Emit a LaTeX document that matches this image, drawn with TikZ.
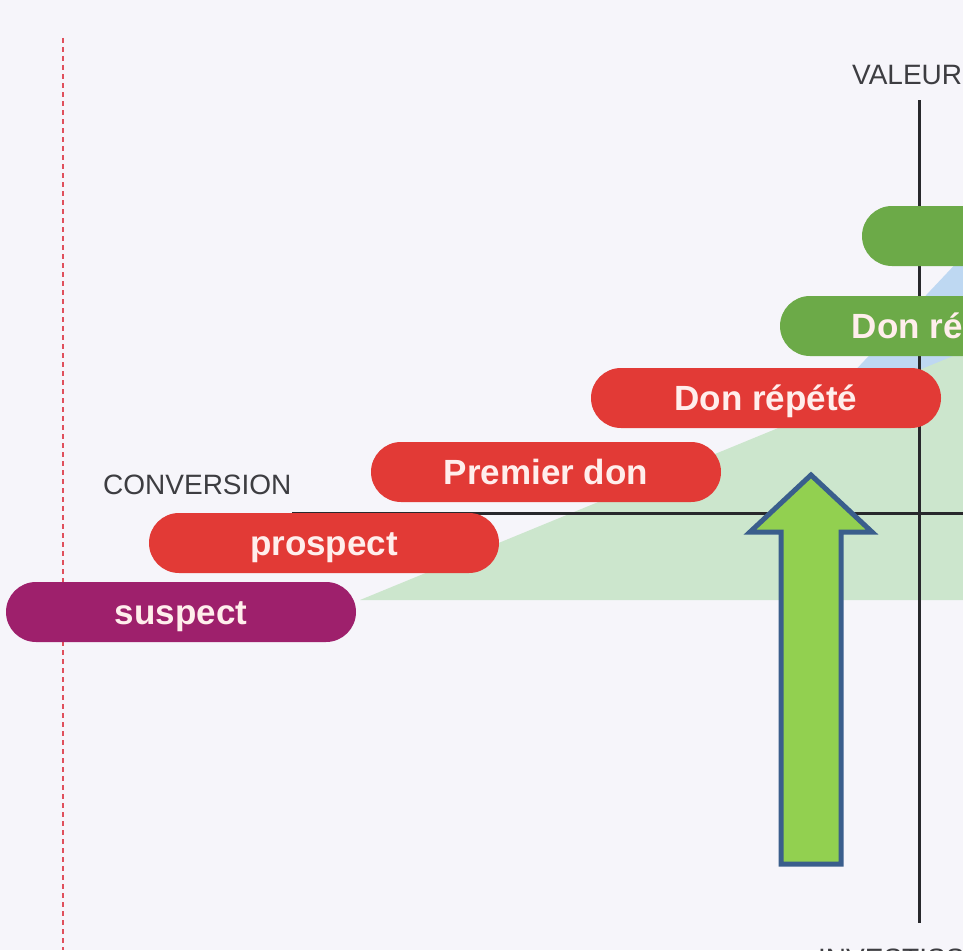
\documentclass[tikz,border=0pt]{standalone}
\usepackage{fontspec}
\setmainfont{Liberation Sans}
\begin{document}
\definecolor{paper}{RGB}{246,245,250}
\definecolor{pillred}{RGB}{226,58,54}
\definecolor{pillpurple}{RGB}{158,32,108}
\definecolor{pillgreen}{RGB}{108,170,72}
\definecolor{zonegreen}{RGB}{204,230,205}
\definecolor{zoneblue}{RGB}{190,216,242}
\definecolor{axisgray}{RGB}{40,40,44}
\definecolor{guide}{RGB}{224,80,92}
\definecolor{arrowfill}{RGB}{146,208,80}
\definecolor{arrowline}{RGB}{58,94,140}
\definecolor{pilltext}{RGB}{255,238,236}
\begin{tikzpicture}[x=1pt,y=-1pt,
  pill/.style={rectangle, rounded corners=30pt, minimum width=350pt, minimum height=60pt,
    inner sep=0pt, text height=24pt, text depth=0pt, text=pilltext,
    font=\fontsize{35}{38}\selectfont\bfseries},
  axislabel/.style={inner sep=0pt, anchor=base west, text=axisgray!90,
    font=\fontsize{28}{30}\selectfont},
  axisline/.style={draw=axisgray, line width=3pt}]
\useasboundingbox (0,0) rectangle (963,950);
\clip (0,0) rectangle (963,950);
\fill[paper] (0,0) rectangle (963,950);

% background zones of the pyramid
\fill[zoneblue] (848,378) -- (963,256) -- (963,420) -- cycle;
\fill[zonegreen] (360,600) -- (963,352) -- (963,600) -- cycle;

% dashed guide on the left
\coordinate (gtop) at (63,38);
\coordinate (gbot) at (63,950);
\draw[guide, line width=1.4pt, dash pattern=on 5pt off 4pt] (gtop) -- (gbot);

% axes
\coordinate (vtop) at (919,100);
\coordinate (vbot) at (919,923);
\coordinate (hleft) at (292,513);
\coordinate (hright) at (963,513);
\draw[axisline] (vtop) -- (vbot);
\draw[axisline] (hleft) -- (hright);

% axis labels
\node[axislabel] (valeur) at (852,84) {VALEUR};
\node[axislabel] (conversion) at (103,494) {CONVERSION};
\node[axislabel] (invest) at (818,968) {INVESTISSEMENT};

% stages
\node[pill, fill=pillgreen] (top) at (1037,236) {};
\node[pill, fill=pillgreen] (regulier) at (955,326) {Don régulier};
\node[pill, fill=pillred] (repete) at (766,398) {Don répété};
\node[pill, fill=pillred] (premier) at (546,472) {Premier don};
\node[pill, fill=pillred] (prospect) at (324,543) {prospect};
\node[pill, fill=pillpurple] (suspect) at (181,612) {suspect};

% upward block arrow
\draw[arrowline, fill=arrowfill, line width=5pt, line join=miter]
  (811,475) -- (872,532) -- (841,532) -- (841,864) -- (781,864) -- (781,532) -- (750,532) -- cycle;
\end{tikzpicture}
\end{document}
